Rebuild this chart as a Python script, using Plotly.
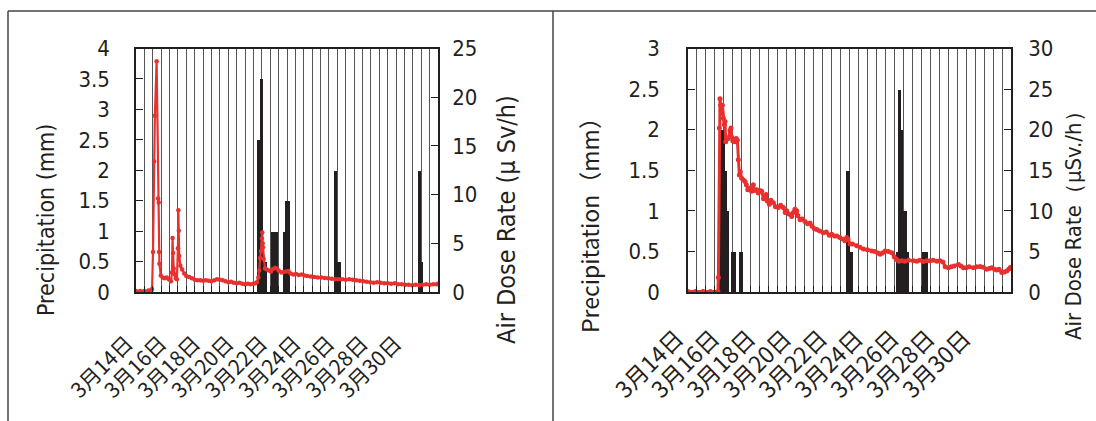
import plotly.graph_objects as go

# ---------------- data (time = hours since 3/14 00:00) ----------------
tick_hours = [0, 48, 96, 144, 192, 240, 288, 336, 384]
tick_labels = ["3月14日", "3月16日", "3月18日", "3月20日", "3月22日",
               "3月24日", "3月26日", "3月28日", "3月30日"]

# left panel
left_rain_hours = [175, 176, 177, 178, 179, 180, 181, 182, 183, 184, 185, 186,
                   194, 195, 196, 197, 199, 200, 201, 202,
                   212, 213, 214, 215, 216, 217, 218, 219,
                   284, 285, 286, 287, 288, 289, 290, 291, 292,
                   404, 405, 406, 407, 408, 409, 410]
left_rain_mm = [2.5, 2.5, 2.5, 3.5, 3.5, 3.5, 3.5, 0.5, 0.5, 0.5, 0.5, 0.5,
                1, 1, 1, 1, 1, 1, 1, 1,
                1, 1, 1.5, 1.5, 1.5, 1.5, 1.5, 1.5,
                0.5, 2, 2, 2, 0.5, 0.5, 0.5, 0.5, 0.5,
                1, 2, 2, 2, 0.5, 0.5, 0.5]

left_dose_hours = [0, 6, 12, 18, 22, 23, 24.3, 26, 27, 29.5, 31.5, 32.5, 33, 33.5, 35.5,
                   38, 41, 44, 47, 50, 51.5, 52.3, 53, 54, 55.5, 57, 58.5, 60, 60.6,
                   61.2, 61.8, 63.5, 66, 69, 72, 76, 80, 84, 88, 92, 96, 100, 104,
                   108, 112, 116, 120, 124, 128, 132, 136, 140, 144, 148, 152, 156,
                   160, 164, 168, 171, 173, 175, 176.3, 177.5, 178.8, 180, 180.6,
                   181.2, 181.6, 182.6, 184.5, 187, 190, 193, 196, 199, 201, 204,
                   208, 211, 215, 218, 221, 225, 229, 233, 237, 241, 245, 250, 255,
                   260, 265, 270, 275, 280, 285, 290, 295, 300, 305, 310, 315, 320,
                   325, 330, 335, 340, 345, 350, 355, 360, 365, 370, 375, 380, 385,
                   390, 395, 400, 405, 410, 415, 420, 425, 430, 432]
left_dose_usv = [0.1, 0.1, 0.1, 0.15, 0.2, 0.3, 4.1, 13.4, 18.1, 23.7, 9.6, 9.2, 4.1, 2.9, 1.7,
                 1.5, 1.4, 1.5, 1.3, 1.1, 2.0, 5.55, 4.0, 2.4, 1.8, 1.4, 1.3, 4.5, 8.4,
                 6.3, 3.7, 2.7, 2.3, 1.9, 1.65, 1.55, 1.4, 1.25, 1.2, 1.2, 1.15, 1.2, 1.15,
                 1.1, 1.2, 1.3, 1.25, 1.2, 1.1, 1.0, 1.05, 0.95, 0.9, 0.95, 0.85, 0.8,
                 0.85, 0.8, 0.85, 0.9, 1.0, 1.5, 2.2, 3.5, 4.2, 5.5, 6.1,
                 5.0, 4.6, 3.4, 2.4, 2.3, 2.2, 2.1, 2.35, 2.5, 2.45, 2.2,
                 2.0, 2.05, 2.1, 2.15, 1.9, 1.8, 1.85, 1.75, 1.8, 1.7, 1.65, 1.6, 1.55,
                 1.5, 1.5, 1.45, 1.4, 1.35, 1.3, 1.3, 1.3, 1.25, 1.3, 1.25, 1.2, 1.15,
                 1.1, 1.05, 1.0, 0.95, 1.0, 0.95, 0.9, 0.9, 0.85, 0.9, 0.8, 0.8, 0.75,
                 0.75, 0.7, 0.75, 0.7, 0.75, 0.8, 0.75, 0.8, 0.8, 0.85]

# right panel
right_rain_hours = [42, 43, 44, 45, 46, 47, 48, 49, 50, 51, 52, 53, 54,
                    59, 60, 61, 62, 63, 69, 70, 71, 72,
                    213, 214, 215, 216, 217, 218, 219,
                    279, 280, 281, 282, 283, 284, 285, 286, 287,
                    288, 289, 290, 291, 292, 293, 294, 295,
                    314, 315, 316, 317, 318, 319, 320]
right_rain_mm = [1, 2, 2, 2, 2, 2, 2, 1.5, 1.5, 1.5, 1, 1, 1,
                 0.5, 0.5, 0.5, 0.5, 0.5, 0.5, 0.5, 0.5, 0.5,
                 1.5, 1.5, 1.5, 1.5, 0.5, 0.5, 0.5,
                 0.5, 0.5, 0.5, 2.5, 2.5, 2.5, 2, 2, 2,
                 1, 1, 1, 1, 1, 0.5, 0.5, 0.5,
                 0.5, 0.5, 0.5, 0.5, 0.5, 0.5, 0.5]

right_dose_hours = [0, 10, 20, 30, 40, 40.6, 41.9, 42.8, 43.7, 44.5, 45.1, 46, 47.3, 48.6,
                    49.5, 50.4, 52, 54, 56.2, 57.5, 58.4, 60, 62.9, 64.5, 66, 67.3, 68.7,
                    70, 71.8, 74, 76.3, 78, 80, 83, 85, 87.4, 89, 91.9, 94, 96, 98.6,
                    101, 104.4, 106, 108.8, 111, 114.2, 117, 120.9, 124, 127.5, 130, 132,
                    135, 138.7, 141, 143, 145.4, 147, 149.9, 153, 156.5, 160, 163.2, 166,
                    169, 172.2, 176, 181, 185, 189, 192.2, 196, 199, 203, 207.8, 210,
                    212.3, 214, 216.8, 220, 225.7, 230, 234.6, 240, 245.8, 250, 254,
                    256.9, 260, 263.6, 268, 272.5, 276, 279.2, 282, 285.9, 290, 295,
                    301.5, 306, 310, 315, 319.4, 323.8, 328, 333, 337, 341, 344, 348.3,
                    352, 356, 361.7, 365, 368.4, 372, 376, 381.8, 386, 390.7, 395, 399.6,
                    403, 406.3, 410, 413, 416, 419.7, 423, 426.4, 429, 430.8, 432]
right_dose_usv = [0.05, 0.05, 0.05, 0.05, 0.05, 1.8, 20.2, 23.8, 23.0, 22.3, 22.0, 23.0, 21.4, 20.6,
                  21.0, 18.5, 19.0, 18.9, 19.9, 20.2, 19.1, 18.6, 18.5, 18.9, 18.7, 16.3, 14.4,
                  14.8, 14.0, 13.8, 13.6, 13.2, 12.6, 12.8, 12.4, 13.2, 12.5, 12.6, 12.2, 12.5, 12.4,
                  11.5, 12.0, 11.2, 10.8, 11.3, 11.0, 10.5, 10.4, 10.7, 10.4, 9.8, 10.0,
                  9.6, 9.3, 9.8, 10.2, 10.0, 9.4, 8.9, 9.0, 8.7, 8.4, 8.5, 8.1,
                  7.8, 7.7, 7.5, 7.3, 7.4, 7.0, 7.1, 6.9, 6.9, 6.7, 6.5, 6.3,
                  6.7, 6.5, 5.9, 5.9, 5.7, 5.5, 5.3, 5.2, 5.05, 5.0, 4.8,
                  4.65, 4.8, 5.05, 5.0, 4.85, 4.3, 4.0, 3.8, 3.85, 3.8, 3.9,
                  3.85, 3.8, 3.9, 3.75, 3.85, 3.85, 3.9, 3.8, 3.85, 3.7, 3.1, 3.0,
                  3.1, 3.2, 3.4, 3.2, 3.0, 3.0, 3.1, 3.0, 3.1, 3.15, 3.05, 2.8,
                  2.9, 3.0, 2.8, 2.7, 2.8, 2.4, 2.45, 2.6, 2.8, 3.0, 3.05]

# ---------------- styling ----------------
INK = "#231f20"
RED = "#e8312f"
GRID = "#555555"
NUM_FONT = "Liberation Sans Narrow, DejaVu Sans Condensed, Liberation Sans, Arial, sans-serif"
JP_FONT = "Noto Sans CJK JP, sans-serif"

W, H = 1096, 421
def px(v):
    return v / W
def py(v):
    return 1 - v / H

Y_DOM = [py(292), py(48.5)]

fig = go.Figure()

fig.add_trace(go.Bar(x=left_rain_hours, y=left_rain_mm, width=1, marker=dict(color=INK, line=dict(width=0)),
                     xaxis="x", yaxis="y", showlegend=False))
fig.add_trace(go.Scatter(x=left_dose_hours, y=left_dose_usv, mode="lines+markers",
                         line=dict(color=RED, width=2.2), marker=dict(color=RED, size=4.5),
                         xaxis="x", yaxis="y2", showlegend=False))
fig.add_trace(go.Bar(x=right_rain_hours, y=right_rain_mm, width=1, marker=dict(color=INK, line=dict(width=0)),
                     xaxis="x2", yaxis="y3", showlegend=False))
fig.add_trace(go.Scatter(x=right_dose_hours, y=right_dose_usv, mode="lines+markers",
                         line=dict(color=RED, width=3), marker=dict(color=RED, size=5),
                         xaxis="x2", yaxis="y4", showlegend=False))

def xaxis(domain, anchor, shift, size, standoff):
    return dict(domain=domain, anchor=anchor, range=[0, 432], automargin=False,
                tickmode="array", tickvals=tick_hours, ticktext=tick_labels,
                tickangle=-45, tickfont=dict(family=JP_FONT, size=size, color=INK),
                ticks="inside", ticklen=6, tickcolor=INK,
                ticklabelstandoff=standoff, ticklabelshift=shift,
                showgrid=True, gridcolor=GRID, gridwidth=1,
                minor=dict(tickmode="linear", tick0=0, dtick=12, showgrid=True,
                           gridcolor=GRID, gridwidth=1, ticks="inside", ticklen=6, tickcolor=INK),
                showline=True, mirror=True, linecolor=INK, linewidth=1.5,
                zeroline=False, fixedrange=True)

def yaxis(rng, dtick, side, anchor, overlaying=None, standoff=12, size=22):
    d = dict(domain=Y_DOM, range=rng, dtick=dtick, tick0=0, side=side, anchor=anchor,
             automargin=False,
             ticks="inside", ticklen=7, tickcolor=INK,
             tickfont=dict(family=NUM_FONT, size=size, color=INK),
             ticklabelstandoff=standoff,
             showgrid=False, zeroline=False, showline=True, linecolor=INK, linewidth=1.5)
    if overlaying:
        d["overlaying"] = overlaying
    return d

fig.update_layout(
    width=W, height=H, margin=dict(l=0, r=0, t=0, b=0, autoexpand=False),
    paper_bgcolor="white", plot_bgcolor="white",
    bargap=0, barmode="overlay",
    xaxis=xaxis([px(136), px(438)], "y", -9, 21, 29),
    yaxis=yaxis([0, 4], 0.5, "left", "x", standoff=20),
    yaxis2=yaxis([0, 25], 5, "right", "x", overlaying="y", standoff=8),
    xaxis2=xaxis([px(688), px(1011)], "y3", -11, 23, 22),
    yaxis3=yaxis([0, 3], 0.5, "left", "x2", standoff=22),
    yaxis4=yaxis([0, 30], 5, "right", "x2", overlaying="y3", standoff=11),
)

# axis titles (centered below plot middle as in the original)
titles = [
    ("Precipitation (mm)", 46, NUM_FONT, 23),
    ("Air Dose Rate (μ Sv/h)", 507, NUM_FONT, 25),
    ("Precipitation（mm）", 589, JP_FONT, 23),
    ("Air Dose Rate（μSv./h）", 1074, NUM_FONT, 22),
]
for text, xc, fam, sz in titles:
    fig.add_annotation(text=text, x=px(xc), y=py(220), xref="paper", yref="paper",
                       xanchor="center", yanchor="middle", textangle=-90, showarrow=False,
                       font=dict(family=fam, size=sz, color=INK))

# panel frame lines
frame = dict(color="#444444", width=1.5)
fig.add_shape(type="line", xref="paper", yref="paper", x0=px(8), x1=1, y0=py(11), y1=py(11), line=frame)
fig.add_shape(type="line", xref="paper", yref="paper", x0=px(8), x1=px(8), y0=0, y1=py(11), line=frame)
fig.add_shape(type="line", xref="paper", yref="paper", x0=px(553), x1=px(553), y0=0, y1=py(11), line=frame)

fig.write_html("out.html", config={"displayModeBar": False},
               post_script="document.body.style.margin='0';")
